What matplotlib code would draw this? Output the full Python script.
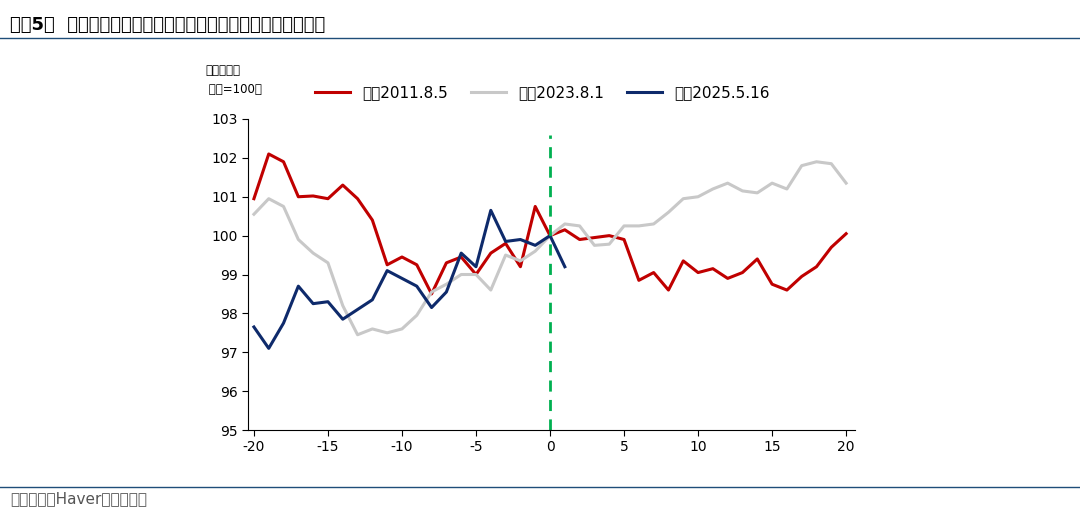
import numpy as np
import matplotlib.pyplot as plt
from matplotlib import font_manager

# pick whatever CJK font is actually registered
cjk = [f.name for f in font_manager.fontManager.ttflist if 'CJK' in f.name]
cjk_name = 'Noto Sans CJK SC' if 'Noto Sans CJK SC' in cjk else (cjk[0] if cjk else 'DejaVu Sans')
plt.rcParams['font.family'] = 'sans-serif'
plt.rcParams['font.sans-serif'] = ['DejaVu Sans', cjk_name]
plt.rcParams['axes.unicode_minus'] = False

days = list(range(-20, 21))
sp_2011 = [100.95, 102.1, 101.9, 101.0, 101.02, 100.95, 101.3, 100.95, 100.4, 99.25,
           99.45, 99.25, 98.5, 99.3, 99.45, 99.0, 99.55, 99.8, 99.2, 100.75,
           100.0, 100.15, 99.9, 99.95, 100.0, 99.9, 98.85, 99.05, 98.6, 99.35,
           99.05, 99.15, 98.9, 99.05, 99.4, 98.75, 98.6, 98.95, 99.2, 99.7, 100.05]
fitch_2023 = [100.55, 100.95, 100.75, 99.9, 99.55, 99.3, 98.2, 97.45, 97.6, 97.5,
              97.6, 97.95, 98.55, 98.75, 99.0, 99.0, 98.6, 99.5, 99.35, 99.6,
              100.0, 100.3, 100.25, 99.75, 99.78, 100.25, 100.25, 100.3, 100.6, 100.95,
              101.0, 101.2, 101.35, 101.15, 101.1, 101.35, 101.2, 101.8, 101.9, 101.85, 101.35]
moodys_days = list(range(-20, 2))
moodys_2025 = [97.65, 97.1, 97.75, 98.7, 98.25, 98.3, 97.85, 98.1, 98.35, 99.1,
               98.9, 98.7, 98.15, 98.55, 99.55, 99.2, 100.65, 99.85, 99.9, 99.75,
               100.0, 99.2]

fig = plt.figure(figsize=(10.8, 5.13), dpi=100)
ax = fig.add_axes([248/1080, 1-430/513, (855-248)/1080, (430-119)/513])

ax.plot(days, sp_2011, color='#c00000', lw=2.2, label='标普2011.8.5')
ax.plot(days, fitch_2023, color='#c8c8c8', lw=2.2, label='惠誉2023.8.1')
ax.plot(moodys_days, moodys_2025, color='#0e2a6b', lw=2.2, label='穆迪2025.5.16')
ax.axvline(0, ymax=(102.6-95)/8, color='#00b050', lw=2, ls=(0, (4, 3)))

ax.set_xlim(-20.4, 20.6)
ax.set_ylim(95, 103)
ax.set_xticks([-20, -15, -10, -5, 0, 5, 10, 15, 20])
ax.set_yticks(range(95, 104))
ax.tick_params(labelsize=10, length=4, direction='out')
for s in ['top', 'right']:
    ax.spines[s].set_visible(False)
ax.legend(loc='lower left', bbox_to_anchor=(0.1, 1.04), ncol=3, frameon=False,
          fontsize=11, handlelength=2.3, columnspacing=1.5, borderaxespad=0)
fig.text(205/1080, 1-80/513, '（下调评级\n 当天=100）', fontsize=8.5, va='center', linespacing=1.6)

fig.text(10/1080, 1-25/513, '图表5：  穆迪下调美国评级后，美元指数贬值幅度超过此前两次',
         fontsize=13, fontweight='bold', va='center')
fig.add_artist(plt.Line2D([0, 1], [1-38/513]*2, color='#1f4e79', lw=1))
fig.add_artist(plt.Line2D([0, 1], [1-487/513]*2, color='#1f4e79', lw=1))
fig.text(10/1080, 1-499/513, '资料来源：Haver，华泰研究', fontsize=11, color='#555555', va='center')

fig.savefig('out.png')
